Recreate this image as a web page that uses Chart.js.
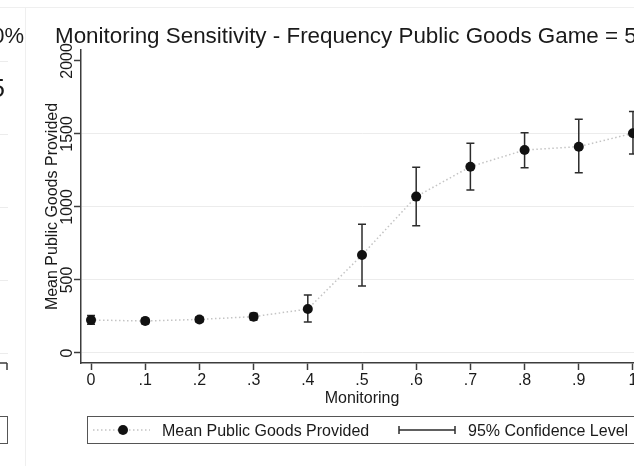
<!DOCTYPE html>
<html>
<head>
<meta charset="utf-8">
<title>Monitoring Sensitivity</title>
<script src="https://cdn.jsdelivr.net/npm/chart.js@4/dist/chart.umd.min.js"></script>
<style>
  html, body { margin: 0; padding: 0; background: #fff; }
  #frame { position: relative; width: 634px; height: 466px; overflow: hidden; background: #fff; }
  #chart { position: absolute; left: 0; top: 0; }
</style>
</head>
<body>
<div id="frame">
  <canvas id="chart" width="700" height="466"></canvas>
</div>
<script>
// Values
const monitoring = [0, 0.1, 0.2, 0.3, 0.4, 0.5, 0.6, 0.7, 0.8, 0.9, 1]
const meanGoods = [226, 219, 230, 249, 301, 671, 1071, 1276, 1390, 1413, 1505]
const ciLower = [197, 201, 212, 226, 212, 459, 872, 1116, 1269, 1235, 1363]
const ciUpper = [256, 238, 249, 273, 397, 881, 1272, 1436, 1509, 1600, 1653]
const xTickLabels = ['0', '.1', '.2', '.3', '.4', '.5', '.6', '.7', '.8', '.9', '1']
const yTickValues = [0, 500, 1000, 1500, 2000]

const chartTitle = 'Monitoring Sensitivity - Frequency Public Goods Game = 50%'
const seriesLabel = 'Mean Public Goods Provided'
const ciLabel = '95% Confidence Level'

const FONT = '"Liberation Sans", Arial, Helvetica, sans-serif'
const TEXT = '#1a1a1a'
const AXIS = '#3c3c3c'
const GRID = '#ececec'

// Error bars go under the line and the markers
const errorBars = {
  id: 'errorBars',
  beforeDatasetsDraw(chart) {
    const { ctx, scales: { x, y } } = chart
    ctx.save()
    ctx.strokeStyle = '#2c2c2c'
    ctx.lineWidth = 1.5
    monitoring.forEach((m, i) => {
      const px = x.getPixelForValue(m)
      const lo = y.getPixelForValue(ciLower[i])
      const hi = y.getPixelForValue(ciUpper[i])
      ctx.beginPath()
      ctx.moveTo(px, lo); ctx.lineTo(px, hi)
      ctx.moveTo(px - 4, lo); ctx.lineTo(px + 4, lo)
      ctx.moveTo(px - 4, hi); ctx.lineTo(px + 4, hi)
      ctx.stroke()
    })
    ctx.restore()
  }
}

// Stata-style text: title, rotated y labels, legend box and the edge of the neighbour panel
const stataDecor = {
  id: 'stataDecor',
  afterDraw(chart) {
    const { ctx, chartArea, scales: { y } } = chart
    ctx.save()

    // panel frame lines
    ctx.strokeStyle = '#efefef'
    ctx.lineWidth = 1
    ctx.beginPath()
    ctx.moveTo(0, 7.5); ctx.lineTo(chart.width, 7.5)
    ctx.moveTo(25.5, 8); ctx.lineTo(25.5, chart.height)
    ctx.stroke()

    // leftover of the neighbouring panel
    ctx.fillStyle = TEXT
    ctx.font = '22px ' + FONT
    ctx.textAlign = 'right'
    ctx.textBaseline = 'alphabetic'
    ctx.fillText('0%', 24, 43)
    ctx.font = '26px ' + FONT
    ctx.fillText('5', 5, 97)
    ctx.strokeStyle = GRID
    ctx.beginPath()
    yTickValues.forEach(v => {
      const py = Math.round(y.getPixelForValue(v)) + 0.5
      ctx.moveTo(0, py); ctx.lineTo(8, py)
    })
    ctx.stroke()
    ctx.strokeStyle = AXIS
    ctx.lineWidth = 1.5
    ctx.beginPath()
    ctx.moveTo(0, chartArea.bottom); ctx.lineTo(7, chartArea.bottom)
    ctx.moveTo(7, chartArea.bottom); ctx.lineTo(7, chartArea.bottom + 7)
    ctx.stroke()
    ctx.lineWidth = 1
    ctx.strokeStyle = '#555'
    ctx.strokeRect(-10.5, 416.5, 18, 27)

    // title
    ctx.fillStyle = TEXT
    ctx.font = '22.4px ' + FONT
    ctx.textAlign = 'left'
    ctx.fillText(chartTitle, 55, 43)

    // y tick labels, turned like the axis title
    ctx.font = '16px ' + FONT
    ctx.textAlign = 'center'
    yTickValues.forEach(v => {
      ctx.save()
      ctx.translate(72, y.getPixelForValue(v))
      ctx.rotate(-Math.PI / 2)
      ctx.fillText(String(v), 0, 0)
      ctx.restore()
    })

    // y axis title
    ctx.font = '16px ' + FONT
    ctx.save()
    ctx.translate(57, (chartArea.top + chartArea.bottom) / 2)
    ctx.rotate(-Math.PI / 2)
    ctx.fillText(seriesLabel, 0, 0)
    ctx.restore()

    // legend
    ctx.strokeStyle = '#555'
    ctx.lineWidth = 1
    ctx.strokeRect(87.5, 416.5, 700, 27)
    const ly = 430
    ctx.strokeStyle = '#c4c4c4'
    ctx.lineWidth = 1.5
    ctx.setLineDash([1.5, 2.5])
    ctx.beginPath()
    ctx.moveTo(93, ly); ctx.lineTo(150, ly)
    ctx.stroke()
    ctx.setLineDash([])
    ctx.fillStyle = '#111'
    ctx.beginPath()
    ctx.arc(123, ly, 5, 0, Math.PI * 2)
    ctx.fill()
    ctx.strokeStyle = '#2c2c2c'
    ctx.beginPath()
    ctx.moveTo(399, ly); ctx.lineTo(455, ly)
    ctx.moveTo(399, ly - 4); ctx.lineTo(399, ly + 4)
    ctx.moveTo(455, ly - 4); ctx.lineTo(455, ly + 4)
    ctx.stroke()
    ctx.fillStyle = TEXT
    ctx.font = '16px ' + FONT
    ctx.textAlign = 'left'
    ctx.fillText(seriesLabel, 162, 436)
    ctx.fillText(ciLabel, 468, 436)

    ctx.restore()
  }
}

const points = monitoring.map((m, i) => ({ x: m, y: meanGoods[i] }))

new Chart(document.getElementById('chart'), {
  type: 'line',
  data: {
    datasets: [{
      label: seriesLabel,
      data: points,
      borderColor: '#c4c4c4',
      borderWidth: 1.5,
      borderDash: [1.5, 2.5],
      pointRadius: 5,
      pointBorderWidth: 0,
      pointBackgroundColor: '#111',
      tension: 0
    }]
  },
  options: {
    responsive: false,
    animation: false,
    devicePixelRatio: 1,
    layout: { padding: { left: 74, top: 50, right: 57, bottom: 55 } },
    plugins: {
      legend: { display: false },
      title: { display: false },
      tooltip: { enabled: false }
    },
    scales: {
      x: {
        type: 'linear',
        min: -0.0185,
        max: 1.0185,
        afterBuildTicks: scale => { scale.ticks = monitoring.map(v => ({ value: v })) },
        ticks: {
          callback: (value, index) => xTickLabels[index],
          font: { family: FONT, size: 16, lineHeight: 1 },
          color: TEXT,
          padding: 2.5,
          maxRotation: 0,
          autoSkip: false
        },
        grid: { drawOnChartArea: false, tickLength: 7, tickColor: AXIS, tickWidth: 1.5 },
        border: { color: AXIS, width: 1.5 },
        title: {
          display: true,
          text: 'Monitoring',
          font: { family: FONT, size: 16, lineHeight: 1 },
          color: TEXT,
          padding: { top: 0, bottom: 4 }
        }
      },
      y: {
        min: -68.5,
        max: 2075,
        afterBuildTicks: scale => { scale.ticks = yTickValues.map(v => ({ value: v })) },
        ticks: { display: false },
        grid: {
          color: ctx => (ctx.tick && ctx.tick.value === 2000 ? 'rgba(0,0,0,0)' : GRID),
          lineWidth: 1,
          tickLength: 7,
          tickColor: AXIS,
          tickWidth: 1.5
        },
        border: { color: AXIS, width: 1.5 }
      }
    }
  },
  plugins: [errorBars, stataDecor]
})
</script>
</body>
</html>
